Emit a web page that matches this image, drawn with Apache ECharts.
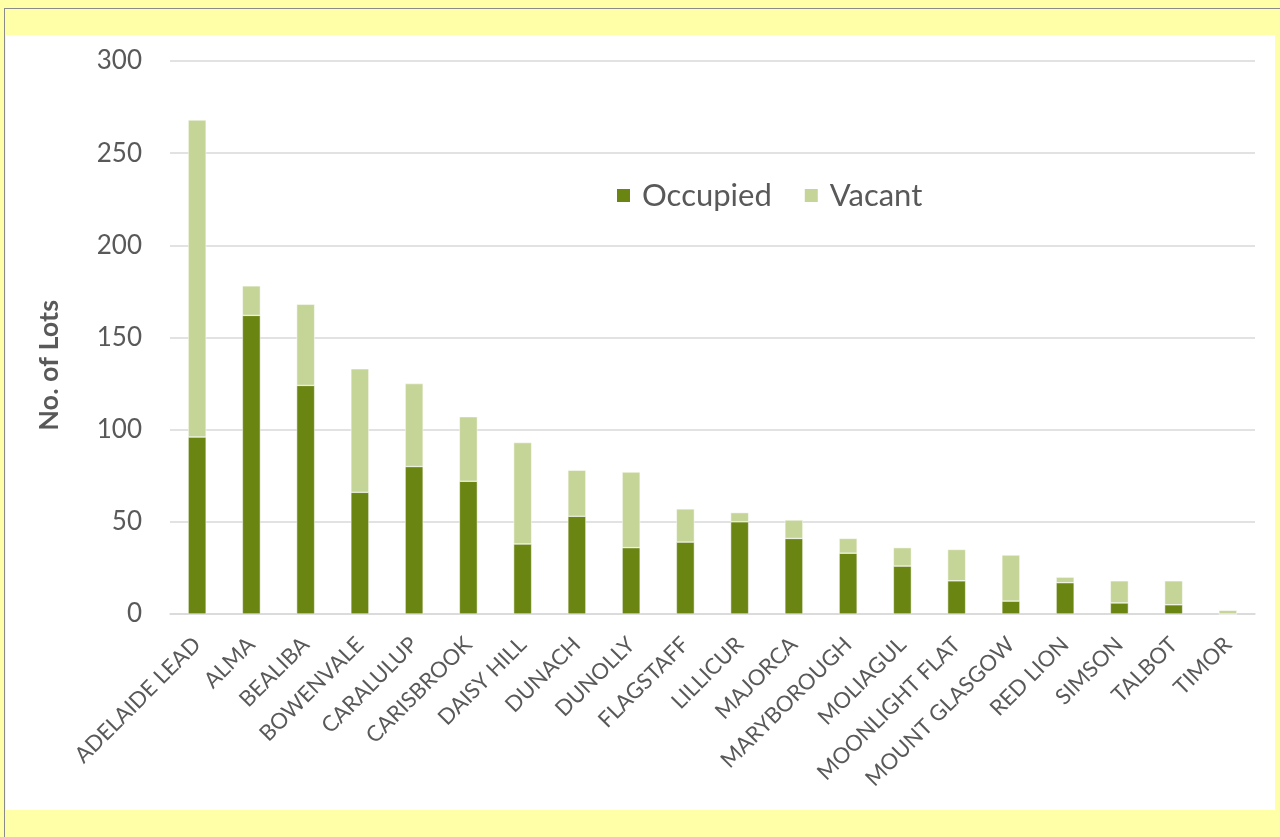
<!DOCTYPE html>
<html>
<head>
<meta charset="utf-8">
<script src="https://cdn.jsdelivr.net/npm/echarts@6/dist/echarts.min.js"></script>
<style>
  html, body { margin: 0; padding: 0; width: 1280px; height: 837px; background: #ffffa8; overflow: hidden; }
  #frame { position: absolute; left: 4px; top: 8px; width: 1276px; height: 829px; border-left: 1px solid #8a8a8a; border-top: 1px solid #8a8a8a; box-sizing: border-box; background: #ffffa8; }
  #chart { position: absolute; left: 6px; top: 35px; width: 1269px; height: 775px; background: #ffffff; }
</style>
</head>
<body>
<div id="frame"></div>
<div id="chart"></div>
<script>
const categories = ['ADELAIDE LEAD','ALMA','BEALIBA','BOWENVALE','CARALULUP','CARISBROOK','DAISY HILL','DUNACH','DUNOLLY','FLAGSTAFF','LILLICUR','MAJORCA','MARYBOROUGH','MOLIAGUL','MOONLIGHT FLAT','MOUNT GLASGOW','RED LION','SIMSON','TALBOT','TIMOR'];
const occupied = [96, 162, 124, 66, 80, 72, 38, 53, 36, 39, 50, 41, 33, 26, 18, 7, 17, 6, 5, 0];
const vacant   = [172, 16, 44, 67, 45, 35, 55, 25, 41, 18, 5, 10, 8, 10, 17, 25, 3, 12, 13, 2];
const yTicks = [0, 50, 100, 150, 200, 250, 300];

const chart = echarts.init(document.getElementById('chart'), null, { renderer: 'canvas' });
const font = 'Lato, "Open Sans", sans-serif';
chart.setOption({
  animation: false,
  backgroundColor: '#ffffff',
  textStyle: { fontFamily: font },
  grid: { left: 164, right: 20, top: 26, bottom: 196 },
  legend: {
    left: 609, top: 145, padding: 0,
    itemWidth: 15, itemHeight: 15, itemGap: 31,
    icon: 'rect',
    textStyle: { fontSize: 31, color: '#595959', fontFamily: font, padding: [0, 0, 0, 6] },
    data: ['Occupied', 'Vacant']
  },
  xAxis: {
    type: 'category',
    data: categories,
    axisLine: { lineStyle: { color: '#d9d9d9', width: 1.5 } },
    axisTick: { show: false },
    axisLabel: { rotate: 45, fontSize: 22, color: '#595959', margin: 27, interval: 0, fontFamily: font }
  },
  yAxis: {
    type: 'value',
    min: yTicks[0], max: yTicks[yTicks.length - 1], interval: 50,
    axisLine: { show: false },
    axisTick: { show: false },
    splitLine: { lineStyle: { color: '#d9d9d9', width: 1.5 } },
    axisLabel: { fontSize: 26, color: '#595959', margin: 28, fontFamily: font }
  },
  graphic: [{
    type: 'text',
    left: 30, top: 265,
    rotation: Math.PI / 2,
    style: { text: 'No. of Lots', font: 'bold 27px ' + font, fill: '#595959' }
  }],
  series: [
    {
      name: 'Occupied', type: 'bar', stack: 'lots', barWidth: 18,
      data: occupied,
      itemStyle: { color: '#6b8512', borderColor: '#ffffff', borderWidth: 0.5 }
    },
    {
      name: 'Vacant', type: 'bar', stack: 'lots', barWidth: 18,
      data: vacant,
      itemStyle: { color: '#c5d497', borderColor: '#ffffff', borderWidth: 0.5 }
    }
  ]
});
</script>
</body>
</html>
